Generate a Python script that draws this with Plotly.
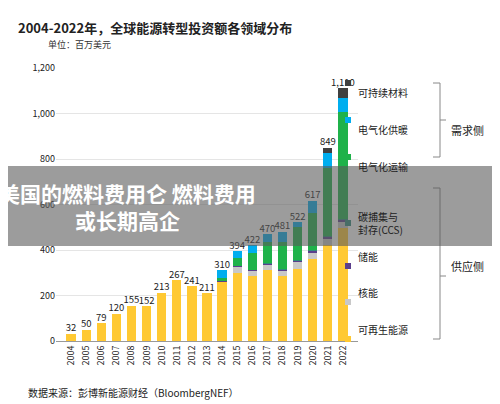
import plotly.graph_objects as go

years = [str(y) for y in range(2004, 2023)]
totals = [32,50,79,120,155,152,213,267,241,211,310,394,422,470,481,522,617,849,1110]
renew = [32,50,79,120,155,152,213,267,241,211,260,300,285,313,287,318,361,420,495]
nuclear = [0,0,0,0,0,0,0,0,0,0,2,27,25,25,25,30,30,30,30]
storage = [0,0,0,0,0,0,0,0,0,0,1,2,3,4,4,5,6,8,10]
ccs = [0,0,0,0,0,0,0,0,0,0,0,0,1,1,1,2,2,3,3]
transport = [0,0,0,0,0,0,0,0,0,0,15,35,75,90,120,145,165,300,467]
heat = [0,0,0,0,0,0,0,0,0,0,32,30,33,37,44,22,53,66,65]
materials = [0,0,0,0,0,0,0,0,0,0,0,0,0,0,0,0,0,22,40]

series = [("可再生能源", renew, "#FFC933"), ("核能", nuclear, "#C8C8C8"),
          ("储能", storage, "#5B3F8C"), ("碳捕集与封存(CCS)", ccs, "#2E8B7A"),
          ("电气化运输", transport, "#1FB24A"), ("电气化供暖", heat, "#00AEEF"),
          ("可持续材料", materials, "#404040")]

fig = go.Figure()
for name, vals, col in series:
    fig.add_bar(x=years, y=vals, name=name, marker_color=col, marker_line_width=0, width=0.62)
fig.add_scatter(x=years, y=totals, mode="text", text=[f"{t:,}" for t in totals],
                textposition="top center", textfont=dict(size=9.5, color="#222"), showlegend=False)

F = "Noto Sans CJK SC"
def px2py(y): return (333 - y) / 273
def px2px(x): return (x - 48) / 302
ann = []
shapes = []
leg = [("可持续材料", 75, "#404040"), ("电气化供暖", 112, "#00AEEF"), ("电气化运输", 149, "#1FB24A"),
       ("碳捕集与<br>封存(CCS)", 215, "#2E8B7A"), ("储能", 258, "#5B3F8C"), ("核能", 294, "#C8C8C8"),
       ("可再生能源", 331, "#FFC933")]
for t, y, c in leg:
    shapes.append(dict(type="rect", xref="paper", yref="paper", x0=px2px(337), x1=px2px(343),
                       y0=px2py(y+3), y1=px2py(y-3), fillcolor=c, line_width=0))
    ann.append(dict(text=t, x=px2px(348), y=px2py(y), xref="paper", yref="paper", xanchor="left",
                    showarrow=False, align="left", font=dict(size=10, color="#222", family=F)))
for y0, y1, ym, lab in [(75, 149, 112, "需求侧"), (180, 331, 268, "供应侧")]:
    for a, b, c, d in [(425, y0, 432, y0), (432, y0, 432, y1), (425, y1, 432, y1), (432, ym, 438, ym)]:
        shapes.append(dict(type="line", xref="paper", yref="paper", x0=px2px(a), y0=px2py(b),
                           x1=px2px(c), y1=px2py(d), line=dict(color="#888", width=1)))
    ann.append(dict(text=lab, x=px2px(441), y=px2py(ym), xref="paper", yref="paper", xanchor="left",
                    showarrow=False, font=dict(size=11, color="#222", family=F)))
ann += [
    dict(text="<b>2004-2022年，全球能源转型投资额各领域分布</b>", x=0, y=1, xref="paper", yref="paper",
         xanchor="left", yanchor="top", xshift=-40, yshift=52, showarrow=False, font=dict(size=13, color="#222", family=F)),
    dict(text="单位：百万美元", x=0, y=1, xref="paper", yref="paper", xanchor="left", yanchor="top",
         xshift=-10, yshift=32, showarrow=False, font=dict(size=9, color="#333", family=F)),
    dict(text="数据来源：彭博新能源财经（BloombergNEF）", x=0, y=0, xref="paper", yref="paper", xanchor="left",
         yanchor="top", xshift=-30, yshift=-42, showarrow=False, font=dict(size=10, color="#222", family=F)),
]
shapes.append(dict(type="rect", xref="paper", yref="paper", x0=-0.2, x1=1.6, y0=px2py(238), y1=px2py(158),
                   fillcolor="rgba(90,90,90,0.6)", line_width=0))
ann.append(dict(text="<b>美国的燃料费用仑 燃料费用<br>或长期高企</b>", x=px2px(250), y=px2py(198), xref="paper", yref="paper",
                showarrow=False, font=dict(size=21, color="white", family=F)))

fig.update_layout(width=500, height=404, margin=dict(l=48, r=150, t=60, b=71),
                  barmode="stack", showlegend=False, plot_bgcolor="white", paper_bgcolor="white",
                  font=dict(family=F), shapes=shapes, annotations=ann,
                  yaxis=dict(range=[0, 1200], dtick=200, tickformat=",", gridcolor="#E5E5E5",
                             tickfont=dict(size=9, color="#222"), zeroline=False),
                  xaxis=dict(tickangle=-90, tickfont=dict(size=9, color="#222"), showline=True, linecolor="#999"))
fig.write_html("out.html")
